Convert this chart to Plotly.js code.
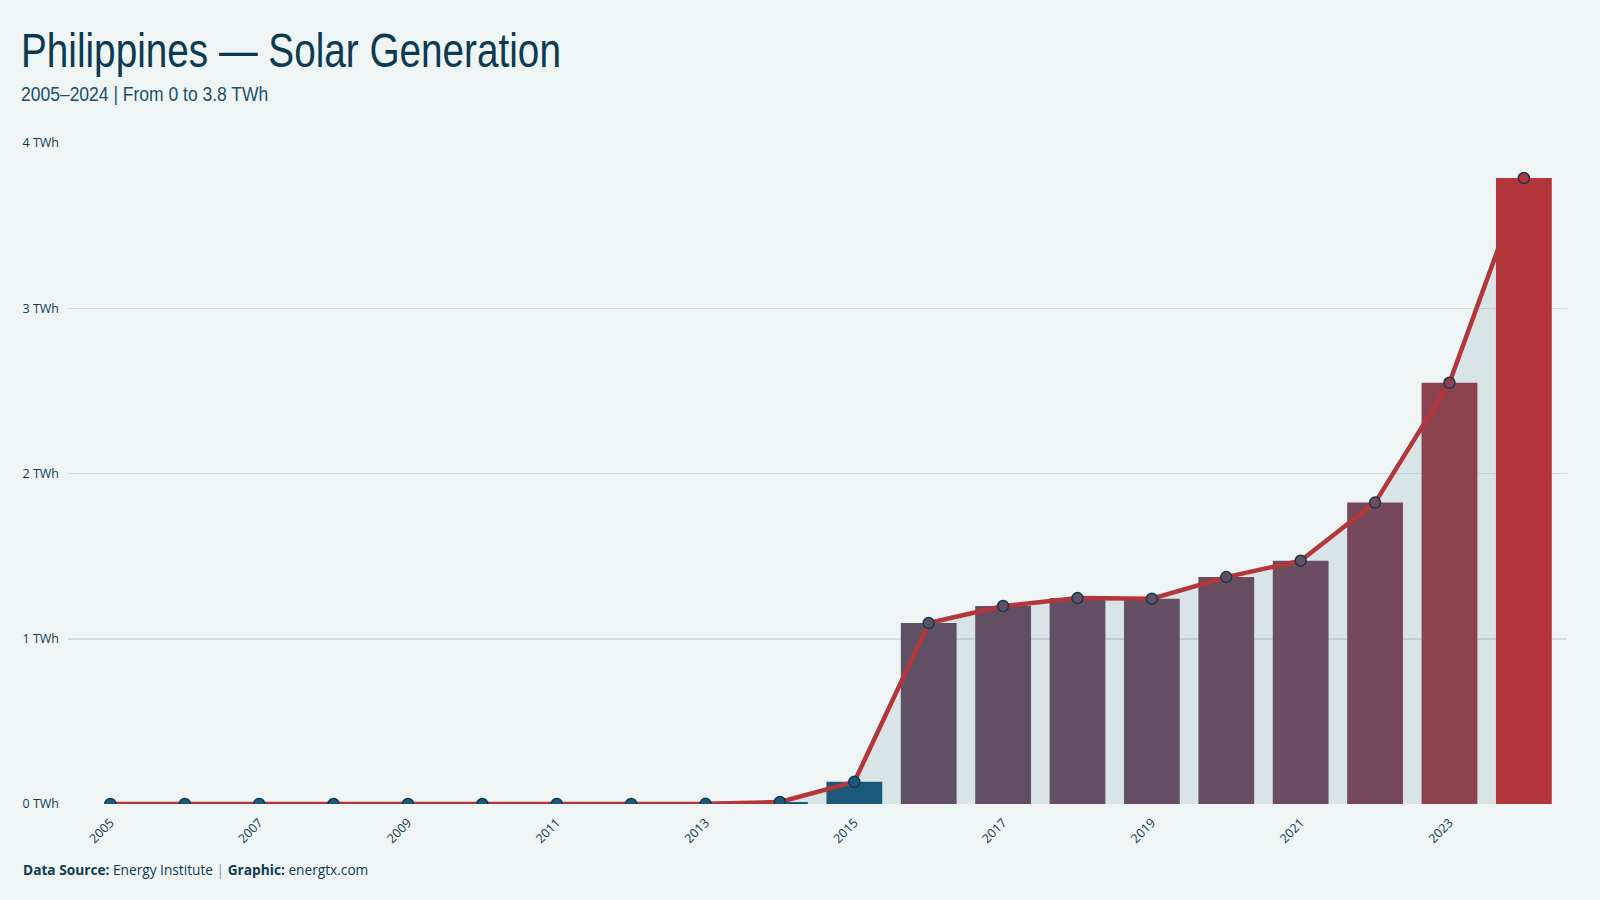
<!DOCTYPE html>
<html>
<head>
<meta charset="utf-8">
<script src="https://cdn.plot.ly/plotly-3.0.1.min.js"></script>
<style>
  html, body { margin: 0; padding: 0; background: #eff5f5; }
  #chart { width: 1600px; height: 900px; }
  /* condensed look for the heading lines */
  .annotation[data-index="0"] text.annotation-text,
  .annotation[data-index="1"] text.annotation-text {
    transform-box: fill-box;
    transform-origin: 0 50%;
  }
  .annotation[data-index="0"] text.annotation-text { transform: scaleX(0.79); }
  .annotation[data-index="1"] text.annotation-text { transform: scaleX(0.875); }
</style>
</head>
<body>
<div id="chart"></div>
<script>
// Philippines solar generation, TWh per year
const years = [2005, 2006, 2007, 2008, 2009, 2010, 2011, 2012, 2013, 2014,
               2015, 2016, 2017, 2018, 2019, 2020, 2021, 2022, 2023, 2024];
const solarTWh = [0, 0, 0, 0, 0, 0, 0, 0, 0.001, 0.012,
                  0.134, 1.095, 1.198, 1.246, 1.242, 1.373, 1.472, 1.824, 2.549, 3.788];

const yTicks = [0, 1, 2, 3, 4];
const yTickLabels = ['0 TWh', '1 TWh', '2 TWh', '3 TWh', '4 TWh'];
const xTicks = [2005, 2007, 2009, 2011, 2013, 2015, 2017, 2019, 2021, 2023];

const titleText = 'Philippines — Solar Generation';
const subtitleText = '2005–2024 | From 0 to 3.8 TWh';
const footerText = "<b>Data Source:</b> Energy Institute <span style='color:#7d95a5'>|</span> <b>Graphic:</b> energtx.com";

// blue-to-red ramp keyed on the value
const ramp = [[0, '#1b587a'], [0.05, '#1c5878'], [0.289, '#5f5066'], [1, '#b3363a']];
const cmax = Math.max(...solarTWh);

const ink = '#0d3b52';
const xRange = [2004.43, 2024.58];
const yRange = [0, 4];

const area = {
  type: 'scatter', mode: 'lines',
  x: years, y: solarTWh,
  line: { width: 0 },
  fill: 'tozeroy', fillcolor: 'rgba(27,82,110,0.10)',
  hoverinfo: 'skip', showlegend: false,
  xaxis: 'x', yaxis: 'y'
};

const bars = {
  type: 'bar',
  x: years, y: solarTWh,
  width: 0.75,
  marker: { color: solarTWh, colorscale: ramp, cmin: 0, cmax: cmax, line: { width: 0 } },
  showlegend: false,
  xaxis: 'x2', yaxis: 'y2'
};

const trend = {
  type: 'scatter', mode: 'lines+markers',
  x: years, y: solarTWh,
  line: { color: '#b3363a', width: 4.5 },
  marker: {
    size: 11, color: solarTWh, colorscale: ramp, cmin: 0, cmax: cmax,
    line: { color: ink, width: 1.5 }
  },
  showlegend: false,
  xaxis: 'x2', yaxis: 'y2'
};

const tickFont = { family: 'Open Sans, Noto Sans, sans-serif', size: 12.5, color: ink };

const layout = {
  width: 1600, height: 900,
  paper_bgcolor: '#eff5f5', plot_bgcolor: 'rgba(0,0,0,0)',
  margin: { l: 68, r: 33, t: 143, b: 96 },
  showlegend: false,
  xaxis: {
    range: xRange, tickmode: 'array', tickvals: xTicks, tickangle: -45, tickfont: tickFont,
    ticklabelstandoff: 8,
    showgrid: false, zeroline: false, showline: false, ticks: ''
  },
  yaxis: {
    range: yRange, tickmode: 'array', tickvals: yTicks, ticktext: yTickLabels, tickfont: tickFont,
    ticklabelstandoff: 8,
    showgrid: true, gridcolor: '#d3dee2', gridwidth: 1.5,
    zeroline: false, showline: false, ticks: ''
  },
  xaxis2: {
    overlaying: 'x', range: xRange, showticklabels: false,
    showgrid: false, zeroline: false, showline: false, ticks: ''
  },
  yaxis2: {
    overlaying: 'y', range: yRange, showticklabels: false,
    showgrid: false, zeroline: false, showline: false, ticks: ''
  },
  annotations: [
    {
      text: titleText, xref: 'paper', yref: 'paper', align: 'left',
      x: -0.0327, y: 1.1405, xanchor: 'left', yanchor: 'middle', showarrow: false,
      font: { family: 'Liberation Sans, Arial, sans-serif', size: 49, color: '#0b3a52' }
    },
    {
      text: subtitleText, xref: 'paper', yref: 'paper', align: 'left',
      x: -0.0327, y: 1.0735, xanchor: 'left', yanchor: 'middle', showarrow: false,
      font: { family: 'Liberation Sans, Arial, sans-serif', size: 20, color: '#1b4f6e' }
    },
    {
      text: footerText, xref: 'paper', yref: 'paper', align: 'left',
      x: -0.03135, y: -0.0996, xanchor: 'left', yanchor: 'middle', showarrow: false,
      font: { family: 'Open Sans, Noto Sans, sans-serif', size: 13.7, color: ink }
    }
  ]
};

Plotly.newPlot('chart', [area, bars, trend], layout, { displayModeBar: false, staticPlot: true });
</script>
</body>
</html>
